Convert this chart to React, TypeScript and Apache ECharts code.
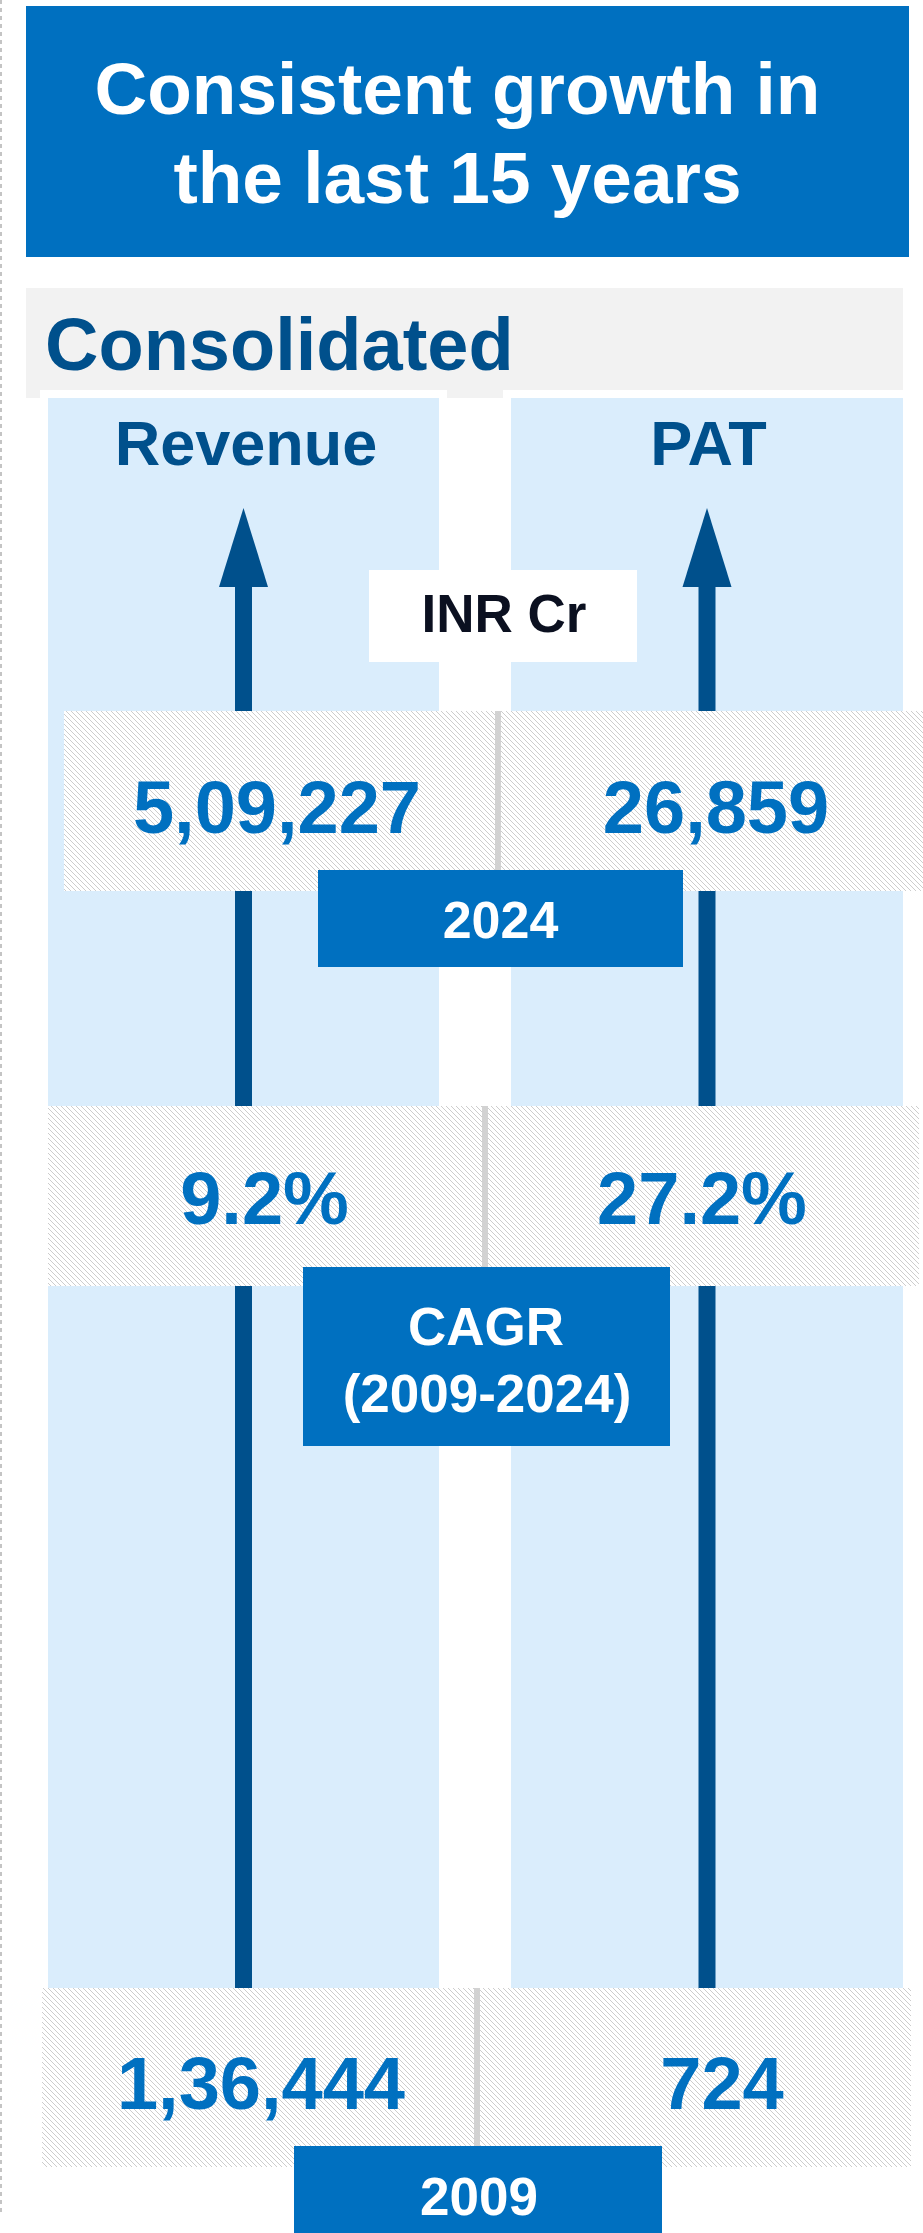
import React, { useEffect, useRef } from 'react';
import * as echarts from 'echarts';

// ---- data ----
const TITLE_LINES = ['Consistent growth in', 'the last 15 years'];
const SECTION = 'Consolidated';
const UNIT = 'INR Cr';
const METRICS = ['Revenue', 'PAT'];
const VALUES_2024 = [509227, 26859];
const VALUES_2009 = [136444, 724];
const CAGR = [9.2, 27.2];
const YEARS = [2009, 2024];

const FONT = '"Liberation Sans", Arial, Helvetica, sans-serif';
const BLUE = '#0070C0';
const DARK = '#00508C';
const LIGHT = '#DAEDFC';

function fmtIN(n: number): string {
  const s = String(Math.round(n));
  if (s.length <= 3) return s;
  const last3 = s.slice(-3);
  let rest = s.slice(0, -3);
  const parts: string[] = [];
  while (rest.length > 2) {
    parts.unshift(rest.slice(-2));
    rest = rest.slice(0, -2);
  }
  if (rest) parts.unshift(rest);
  return parts.join(',') + ',' + last3;
}

function hatchURL(): string {
  const c = document.createElement('canvas');
  const n = 5;
  c.width = n;
  c.height = n;
  const ctx = c.getContext('2d')!;
  ctx.fillStyle = '#ffffff';
  ctx.fillRect(0, 0, n, n);
  ctx.fillStyle = '#cdcdcd';
  for (let i = 0; i < n; i++) ctx.fillRect(i, i, 1, 1);
  return c.toDataURL();
}

function txt(text: string, x: number, y: number, size: number, fill: string, align = 'center', z = 10) {
  return {
    type: 'text',
    x,
    y,
    z,
    style: {
      text,
      fill,
      fontSize: size,
      fontWeight: 'bold',
      fontFamily: FONT,
      align,
      textAlign: align,
      verticalAlign: 'middle',
      textVerticalAlign: 'middle',
    },
  };
}

function rect(x: number, y: number, w: number, h: number, fill: any, z = 1) {
  return { type: 'rect', z, shape: { x, y, width: w, height: h }, style: { fill } };
}

export default function App() {
  const ref = useRef<HTMLDivElement>(null);
  useEffect(() => {
    if (!ref.current) return;
    const chart = echarts.init(ref.current, undefined, { renderer: 'svg' });
    const hatch = { image: hatchURL(), repeat: 'repeat', imageWidth: 5, imageHeight: 5 };

    const colCenters = [243.5, 707];
    const val24X = [277, 716];
    const cagrX = [264.5, 702];
    const val09X = [261, 722];

    const els: any[] = [];
    // dashed left border
    els.push({
      type: 'line', z: 1,
      shape: { x1: 1, y1: 0, x2: 1, y2: 2213 },
      style: { stroke: '#c4c4c4', lineWidth: 2, lineDash: [4, 4] },
    });
    // title
    els.push(rect(26, 6, 883, 251, BLUE, 2));
    els.push(txt(TITLE_LINES[0], 457.5, 88, 73, '#ffffff'));
    els.push(txt(TITLE_LINES[1], 457.5, 177.5, 73, '#ffffff'));
    // consolidated header
    els.push(rect(26, 288, 877, 110, '#F2F2F2', 2));
    els.push(rect(40, 390, 407, 10, '#ffffff', 3));
    els.push(rect(503, 390, 400, 10, '#ffffff', 3));
    els.push(txt(SECTION, 45, 344, 74, DARK, 'left'));
    // columns
    els.push(rect(48, 398, 391, 1590, LIGHT, 4));
    els.push(rect(511, 398, 392, 1590, LIGHT, 4));
    METRICS.forEach((m, i) => {
      els.push(txt(m, i === 0 ? 246 : 708.5, 443, 63, DARK));
      const cx = colCenters[i];
      els.push(rect(cx - 8.5, 585, 17, 1403, DARK, 5));
      els.push({
        type: 'polygon', z: 5,
        shape: { points: [[cx - 24.5, 587], [cx + 24.5, 587], [cx, 508]] },
        style: { fill: DARK },
      });
    });
    // unit box
    els.push(rect(369, 570, 268, 92, '#ffffff', 6));
    els.push(txt(UNIT, 504, 613.5, 53, '#0B1020'));

    // 2024 values
    els.push(rect(64, 711, 859, 180, hatch, 6));
    els.push(rect(495, 711, 6, 165, '#D2D2D2', 7));
    VALUES_2024.forEach((v, i) => els.push(txt(fmtIN(v), val24X[i], 807.5, 74, BLUE)));
    els.push(rect(318, 870, 365, 97, BLUE, 8));
    els.push(txt(String(YEARS[1]), 500.5, 919.5, 52, '#ffffff'));

    // CAGR
    els.push(rect(48, 1106, 871, 180, hatch, 6));
    els.push(rect(482, 1106, 6, 165, '#D2D2D2', 7));
    CAGR.forEach((v, i) => els.push(txt(v.toFixed(1) + '%', cagrX[i], 1198.5, 74, BLUE)));
    els.push(rect(303, 1267, 367, 179, BLUE, 8));
    els.push(txt('CAGR', 486, 1326, 53, '#ffffff'));
    els.push(txt('(' + YEARS[0] + '-' + YEARS[1] + ')', 487, 1393, 53, '#ffffff'));

    // 2009 values
    els.push(rect(42, 1988, 869, 179, hatch, 6));
    els.push(rect(474, 1988, 6, 165, '#D2D2D2', 7));
    VALUES_2009.forEach((v, i) => els.push(txt(fmtIN(v), val09X[i], 2083, 74, BLUE)));
    els.push(rect(294, 2146, 368, 87, BLUE, 8));
    els.push(txt(String(YEARS[0]), 479, 2196, 53, '#ffffff'));

    chart.setOption({
      animation: false,
      backgroundColor: '#ffffff',
      graphic: { elements: els },
    });
    return () => chart.dispose();
  }, []);
  return (
    <div
      ref={ref}
      style={{ position: 'absolute', left: 0, top: 0, width: 923, height: 2233 }}
    />
  );
}
